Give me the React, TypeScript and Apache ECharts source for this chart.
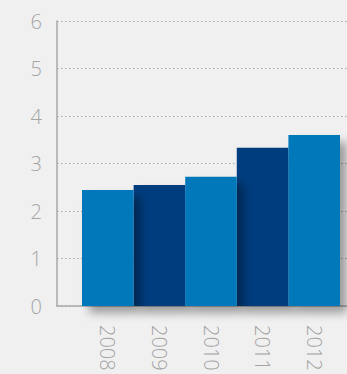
import React, { useEffect, useRef } from "react";
import * as echarts from "echarts";

const categories = ["2008", "2009", "2010", "2011", "2012"];
const values = [2.44, 2.55, 2.72, 3.33, 3.6];
const yTicks = [0, 1, 2, 3, 4, 5, 6];

const LIGHT = "#0078b9";
const DARK = "#003e7e";

export default function App() {
  const ref = useRef<HTMLDivElement>(null);
  useEffect(() => {
    document.body.style.margin = "0";
    document.body.style.background = "#f0f0f0";
    const chart = echarts.init(ref.current!, null, { renderer: "svg" });
    const dark = values.map((v, i) => (i % 2 === 1 ? v : null));
    const light = values.map((v, i) => (i % 2 === 0 ? v : null));
    const shadow = {
      shadowBlur: 10,
      shadowOffsetX: 7,
      shadowOffsetY: 7,
      shadowColor: "rgba(0,0,0,0.35)",
    };
    const labelFont = {
      color: "#a4a4a4",
      fontSize: 20,
      fontFamily: "Open Sans",
      fontWeight: 300,
    };
    chart.setOption({
      animation: false,
      backgroundColor: "#f0f0f0",
      grid: [
        { left: 57, right: 0, top: 21, bottom: 68 },
        { left: 82, width: 258, top: 21, bottom: 68 },
      ],
      xAxis: [
        {
          gridIndex: 0,
          type: "value",
          min: 0,
          max: 1,
          show: true,
          axisLine: { show: true, lineStyle: { color: "#a8a8a8", width: 1.5 } },
          axisTick: { show: false },
          axisLabel: { show: false },
          splitLine: { show: false },
        },
        {
          gridIndex: 1,
          type: "category",
          data: categories,
          axisLine: { show: false },
          axisTick: { show: false },
          axisLabel: {
            rotate: -90,
            margin: 19,
            ...labelFont,
          },
        },
      ],
      yAxis: [
        {
          gridIndex: 0,
          type: "value",
          min: yTicks[0],
          max: yTicks[yTicks.length - 1],
          interval: 1,
          axisLine: { show: true, lineStyle: { color: "#a8a8a8", width: 1.5 } },
          axisTick: { show: false },
          axisLabel: {
            margin: 15,
            ...labelFont,
          },
          splitLine: {
            show: true,
            lineStyle: { color: "#a8a8a8", type: [1.5, 2.5], width: 1 },
          },
        },
        {
          gridIndex: 1,
          type: "value",
          min: 0,
          max: 6,
          interval: 1,
          show: false,
        },
      ],
      series: [
        {
          type: "bar",
          xAxisIndex: 1,
          yAxisIndex: 1,
          data: dark,
          barGap: "-100%",
          barCategoryGap: "0%",
          itemStyle: { color: DARK, ...shadow },
          z: 2,
        },
        {
          type: "bar",
          xAxisIndex: 1,
          yAxisIndex: 1,
          data: light,
          barGap: "-100%",
          barCategoryGap: "0%",
          itemStyle: { color: LIGHT, ...shadow },
          z: 3,
        },
      ],
    });
    return () => chart.dispose();
  }, []);
  return <div ref={ref} style={{ width: 347, height: 374 }} />;
}
